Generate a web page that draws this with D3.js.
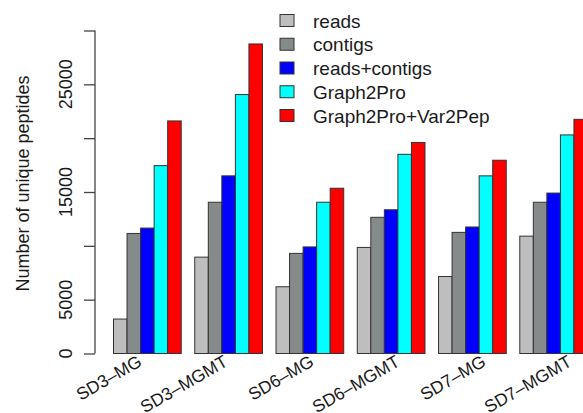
<!DOCTYPE html>
<meta charset="utf-8">
<head>
  <title>Unique peptides</title>
  <script src="https://cdn.jsdelivr.net/npm/d3@7"></script>
  <style>
    body { margin: 0; background: #fff; }
    svg { display: block; font-family: "Liberation Sans", Arial, sans-serif; }
    text { fill: #1a1a1a; }
  </style>
</head>
<body>
<svg width="583" height="413"></svg>
<script>

  // samples (x groups)
  var samples = ["SD3–MG", "SD3–MGMT", "SD6–MG", "SD6–MGMT", "SD7–MG", "SD7–MGMT"];
  // methods (bars inside a group)
  var methods = ["reads", "contigs", "reads+contigs", "Graph2Pro", "Graph2Pro+Var2Pep"];
  var colors  = ["#bebebe", "#858b8b", "#0000ff", "#00ffff", "#ff0000"];

  // values, one array per method
  var reads        = [3200,  8950,  6200,  9850, 7150, 10900];
  var contigs      = [11150, 14050, 9300, 12650, 11250, 14050];
  var readsContigs = [11650, 16500, 9900, 13350, 11750, 14900];
  var graph2pro    = [17450, 24050, 14050, 18500, 16500, 20300];
  var var2pep      = [21600, 28750, 15350, 19600, 17950, 21750];

  var yTicks      = [0, 5000, 10000, 15000, 20000, 25000, 30000];
  var yTickLabels = [0, 5000, 15000, 25000];

  var series = [reads, contigs, readsContigs, graph2pro, var2pep];

  var svg = d3.select("svg");

  var y = d3.scaleLinear()
    .domain([0, 30000])
    .range([353.5, 30.5]);

  var x0 = d3.scaleBand()
    .domain(samples)
    .range([113.5, 587.5])
    .paddingInner(1 / 6)
    .paddingOuter(0);

  var x1 = d3.scaleBand()
    .domain(methods)
    .range([0, x0.bandwidth()]);

  // labels sit on their own spacing in the original
  var xl = d3.scalePoint()
    .domain(samples)
    .range([143, 573]);

  // bars
  var groups = svg.selectAll("g.grp")
    .data(samples)
    .enter()
    .append("g")
      .attr("class", "grp")
      .attr("transform", function(d) { return "translate(" + x0(d) + ",0)"; });

  groups.selectAll("rect")
    .data(function(d, i) {
      return methods.map(function(m, j) { return { m: m, v: series[j][i], c: colors[j] }; });
    })
    .enter()
    .append("rect")
      .attr("x", function(d) { return x1(d.m); })
      .attr("y", function(d) { return y(d.v); })
      .attr("width", x1.bandwidth())
      .attr("height", function(d) { return y(0) - y(d.v); })
      .attr("fill", function(d) { return d.c; })
      .attr("stroke", "#333")
      .attr("stroke-width", 1);

  // y axis
  var yAxis = d3.axisLeft(y)
    .tickValues(yTicks)
    .tickSize(11)
    .tickFormat("");

  var gy = svg.append("g")
    .attr("transform", "translate(95,0)")
    .call(yAxis);
  gy.select(".domain")
    .attr("d", "M0," + y(30000) + "V" + y(0))
    .attr("stroke", "#444")
    .attr("stroke-width", 1.3);
  gy.selectAll(".tick line")
    .attr("stroke", "#444")
    .attr("stroke-width", 1.3);

  svg.selectAll("text.ytick")
    .data(yTickLabels)
    .enter()
    .append("text")
      .attr("class", "ytick")
      .attr("transform", function(d) { return "translate(72," + y(d) + ") rotate(-90)"; })
      .attr("text-anchor", "middle")
      .style("font-size", "18px")
      .text(function(d) { return d; });

  svg.append("text")
    .attr("transform", "translate(28.5,183.5) rotate(-90)")
    .attr("text-anchor", "middle")
    .style("font-size", "18px")
    .text("Number of unique peptides");

  // x labels
  svg.selectAll("text.xlab")
    .data(samples)
    .enter()
    .append("text")
      .attr("class", "xlab")
      .attr("transform", function(d) { return "translate(" + xl(d) + ",365) rotate(-30)"; })
      .attr("text-anchor", "end")
      .style("font-size", "17.5px")
      .text(function(d) { return d; });

  // legend
  var ly = d3.scalePoint()
    .domain(methods)
    .range([21, 116]);

  var leg = svg.selectAll("g.leg")
    .data(methods)
    .enter()
    .append("g")
      .attr("class", "leg")
      .attr("transform", function(d) { return "translate(280," + ly(d) + ")"; });

  leg.append("rect")
    .attr("x", 0)
    .attr("y", -6.5)
    .attr("width", 14)
    .attr("height", 12)
    .attr("fill", function(d, i) { return colors[i]; })
    .attr("stroke", "#333")
    .attr("stroke-width", 1);

  leg.append("text")
    .attr("x", 33)
    .attr("y", 0)
    .attr("dy", "0.35em")
    .style("font-size", "19px")
    .text(function(d) { return d; });

</script>
</body>
</html>
